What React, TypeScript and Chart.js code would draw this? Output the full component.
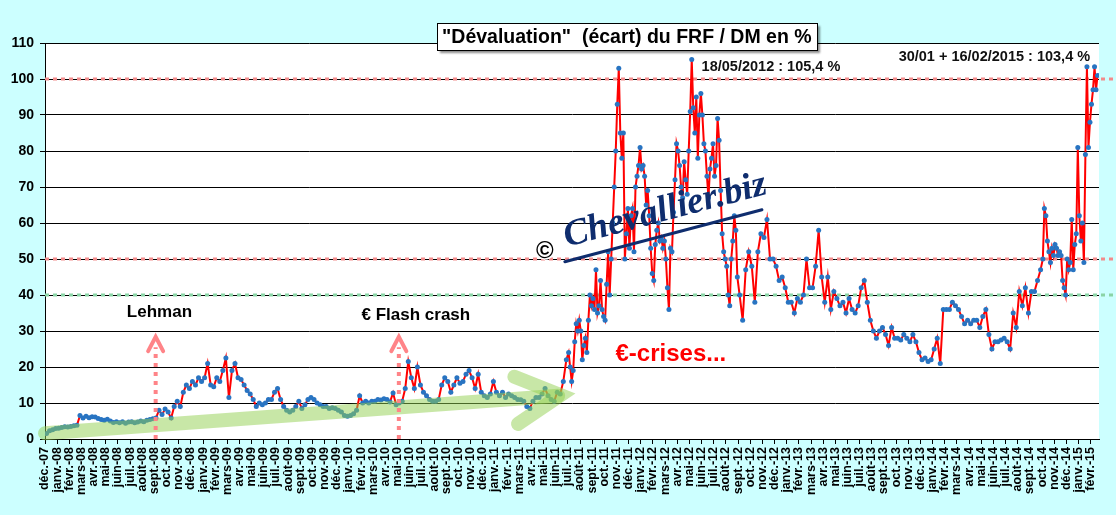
import React, { useEffect, useRef } from 'react';
import { Chart, registerables } from 'chart.js';

Chart.register(...registerables);

// ---- Tick labels (x axis: one per month, déc.-07 … févr.-15) ----
const monthNames = ['janv.', 'févr.', 'mars', 'avr.', 'mai', 'juin', 'juil.', 'août', 'sept.', 'oct.', 'nov.', 'déc.'];
const labelYears = ['08', '09', '10', '11', '12', '13', '14'];
const monthLabels: string[] = ['déc.-07'];
labelYears.forEach((yy) => monthNames.forEach((mn) => monthLabels.push(`${mn}-${yy}`)));
monthLabels.push('janv.-15', 'févr.-15');

const yMin = 0;
const yMax = 110;
const yStep = 10;
const xAxisMax = 86.68; // axis ends ~20 févr. 2015

// ---- Series values: écart FRF / DM en % (4 readings per month, 8 in the hectic periods) ----
const dec2007 = [1.5, 2.3, 2.6, 2.9];
const y2008 = [
  3.0, 3.2, 3.4, 3.3, 3.5, 3.7, 3.8, 6.5, 5.8, 6.3, 5.9, 6.2,
  6.1, 5.7, 5.4, 5.2, 5.5, 5.0, 4.6, 4.8, 4.5, 4.8, 4.4, 4.7,
  4.8, 4.5, 4.7, 5.0, 4.8, 5.2, 5.4, 5.6, 5.8, 8.0, 6.8, 8.3,
  7.5, 5.8, 9.0, 10.5, 9.0, 13.0, 15.0, 14.0, 16.0, 15.0, 17.0, 16.0,
];
const y2009 = [
  17, 21, 15, 14.5, 17, 16, 19, 22.5, 11.5, 19, 21, 17,
  16.5, 15, 13.5, 12.5, 11, 9, 10, 9.5, 10, 11, 11, 13,
  14, 11, 9, 8, 7.5, 8, 9, 10.5, 8.5, 9.5, 11, 11.5,
  11, 10, 9.5, 9, 9, 8.5, 8.7, 8.5, 8, 7.5, 6.5, 6.3,
];
const y2010 = [
  6.5, 7, 8, 12, 10, 10.5, 10, 10.5, 10.5, 11, 10.8, 11.2,
  11, 10.3, 12.8, 9.5, 10, 10.5, 14, 21.5, 17, 14, 20, 15,
  13, 12, 11, 10.5, 10.5, 11, 15, 17, 16, 13, 15, 17,
  15.5, 16, 18, 19, 17, 14, 18, 13, 12, 11.5, 12.5, 16,
];
const y2011H1 = [
  13, 12, 13, 11.5, 12.5, 12, 11.5, 11, 10.9, 10.5, 9, 8.5,
  10.5, 11.5, 11.5, 12.5, 14, 12, 11, 10.5, 13, 12.5, 16, 22,
];
const y2011H2 = [
  24, 20, 16, 19, 27, 32, 30, 33,
  30, 22, 26, 28, 24, 33, 40, 37,
  39, 36, 47, 35, 37, 44, 36, 34,
  33, 43, 52, 40, 50, 60, 70, 80,
  93, 103, 85, 78, 85, 50, 57, 64,
  53, 62, 64, 52, 70, 73, 76, 81,
];
const y2012a = [
  75, 76, 73, 65, 69, 62, 53, 46,
  44, 54, 58, 60, 55, 56, 53, 55,
  50, 42, 36, 53, 52, 63, 72, 82,
  80, 76, 70, 67, 77, 72, 68, 80,
  91, 105.4, 92, 85, 95, 78, 90, 96,
  90, 82, 80, 73, 67, 75, 78, 82,
  73, 76, 89, 83, 69, 57, 52, 50,
  48, 40, 37, 50, 55, 62, 58, 45,
];
const y2012b = [
  40, 33, 47, 52, 48, 38, 52, 57, 56, 61, 50, 50, 48, 44, 45, 42,
];
const y2013 = [
  38, 38, 35, 39, 38, 40, 50, 42, 42, 48, 58, 45,
  38, 45, 36, 41, 39, 37, 38, 35, 39, 36, 35, 37,
  42, 44, 38, 33, 30, 28, 30, 31, 29, 26, 31, 28,
  28, 27.5, 29, 28, 27, 29, 27, 24, 22, 22.5, 21.5, 22,
];
const y2014a = [
  25, 28, 21, 36, 36, 36, 38, 37, 36, 34, 32, 33,
  32, 33, 33, 31, 34, 36, 29, 25, 27, 27, 27.5, 28,
  27, 25, 35, 31, 41, 37, 42, 35, 41, 41, 44, 47,
];
const y2014b = [
  50, 64, 62, 55, 52, 49, 53, 51,
  54, 53, 51, 52, 51, 44, 42, 40,
  50, 47, 49, 61, 47, 54, 57, 81,
];
const y2015 = [
  62, 55, 60, 49, 79, 103.4, 81, 88,
  93, 97, 103.4, 97, 101,
];

const segments = [
  { values: dec2007, perMonth: 4 },
  { values: y2008, perMonth: 4 },
  { values: y2009, perMonth: 4 },
  { values: y2010, perMonth: 4 },
  { values: y2011H1, perMonth: 4 },
  { values: y2011H2, perMonth: 8 },
  { values: y2012a, perMonth: 8 },
  { values: y2012b, perMonth: 4 },
  { values: y2013, perMonth: 4 },
  { values: y2014a, perMonth: 4 },
  { values: y2014b, perMonth: 8 },
  { values: y2015, perMonth: 8 },
];

// ---- Annotations ----
const titleText = '"Dévaluation"  (écart) du FRF / DM en %';
const peak2012Text = '18/05/2012 : 105,4 %';
const peak2015Text = '30/01 + 16/02/2015 : 103,4 %';
const crisisText = '€-crises...';
const watermarkText = 'Chevallier.biz';
const refLines = [
  { value: 100, color: '#f28b8b' },
  { value: 50, color: '#f28b8b' },
  { value: 40, color: '#8ad4a6' },
];
const events = [
  { label: 'Lehman', m: 9.1, textM: 9.41, textV: 35.1 },
  { label: '€ Flash crash', m: 29.1, textM: 30.5, textV: 34.25 },
];

const points: { x: number; y: number }[] = [];
{
  let cursor = 0;
  segments.forEach((s) => {
    s.values.forEach((v, i) => points.push({ x: cursor + (i + 0.5) / s.perMonth, y: v }));
    cursor += s.values.length / s.perMonth;
  });
}

const decorPlugin = {
  id: 'decor',
  beforeDraw(chart: any) {
    const { ctx, chartArea } = chart;
    ctx.save();
    ctx.fillStyle = '#ccffff';
    ctx.fillRect(0, 0, chart.width, chart.height);
    ctx.fillStyle = '#ffffff';
    ctx.fillRect(chartArea.left, chartArea.top, chartArea.right - chartArea.left, chartArea.bottom - chartArea.top);
    ctx.restore();
  },
  beforeDatasetsDraw(chart: any) {
    const { ctx, chartArea } = chart;
    const y = chart.scales.y;
    refLines.forEach((r) => {
      const p = Math.round(y.getPixelForValue(r.value));
      ctx.save();
      ctx.strokeStyle = r.color;
      ctx.lineWidth = 3;
      ctx.setLineDash([4, 4]);
      ctx.beginPath();
      ctx.moveTo(chartArea.left, p);
      ctx.lineTo(chart.width, p);
      ctx.stroke();
      ctx.restore();
    });
  },
  afterDatasetsDraw(chart: any) {
    const { ctx } = chart;
    const X = (m: number) => chart.scales.x.getPixelForValue(m);
    const Y = (v: number) => chart.scales.y.getPixelForValue(v);

    // green trend arrow (semi transparent)
    ctx.save();
    ctx.strokeStyle = 'rgba(146,208,80,0.5)';
    ctx.lineWidth = 14;
    ctx.lineCap = 'round';
    ctx.beginPath();
    ctx.moveTo(X(0), Y(1.6));
    ctx.lineTo(X(42.2), Y(12));
    ctx.stroke();
    ctx.beginPath();
    ctx.moveTo(X(38.6), Y(17.3));
    ctx.lineTo(X(42.4), Y(12.2));
    ctx.lineTo(X(38.9), Y(4.2));
    ctx.stroke();
    ctx.restore();

    // pink event arrows
    events.forEach((e) => {
      const ex = X(e.m);
      ctx.save();
      ctx.strokeStyle = '#ff8488';
      ctx.lineWidth = 4;
      ctx.setLineDash([4, 5]);
      ctx.beginPath();
      ctx.moveTo(ex, Y(0));
      ctx.lineTo(ex, Y(25.5));
      ctx.stroke();
      ctx.setLineDash([]);
      ctx.lineCap = 'round';
      ctx.beginPath();
      ctx.moveTo(ex - 7.5, Y(24.4));
      ctx.lineTo(ex, Y(28.4));
      ctx.lineTo(ex + 7.5, Y(24.4));
      ctx.stroke();
      ctx.restore();

      ctx.save();
      ctx.fillStyle = '#000';
      ctx.font = 'bold 17px "Liberation Sans", Arial, sans-serif';
      ctx.textAlign = 'center';
      ctx.textBaseline = 'middle';
      ctx.fillText(e.label, X(e.textM), Y(e.textV));
      ctx.restore();
    });

    // €-crises
    ctx.save();
    ctx.fillStyle = '#ff0000';
    ctx.font = 'bold 24px "Liberation Sans", Arial, sans-serif';
    ctx.textAlign = 'center';
    ctx.textBaseline = 'middle';
    ctx.fillText(crisisText, X(51.47), Y(23.4));
    ctx.restore();

    // watermark
    ctx.save();
    ctx.fillStyle = '#000';
    ctx.font = 'bold 24px "Liberation Sans", Arial, sans-serif';
    ctx.textAlign = 'center';
    ctx.textBaseline = 'middle';
    ctx.strokeStyle = '#fff';
    ctx.lineWidth = 3;
    ctx.strokeText('©', X(41.1), Y(52));
    ctx.fillText('©', X(41.1), Y(52));
    ctx.restore();

    ctx.save();
    const ux1 = X(42.75);
    const uy1 = Y(49.25);
    const ux2 = X(58.96);
    const uy2 = Y(63.7);
    const ang = Math.atan2(uy2 - uy1, ux2 - ux1);
    ctx.strokeStyle = '#0f2d6e';
    ctx.lineWidth = 3;
    ctx.lineCap = 'round';
    ctx.beginPath();
    ctx.moveTo(ux1, uy1);
    ctx.lineTo(ux2, uy2);
    ctx.stroke();
    ctx.translate(X(42.9), Y(53.4));
    ctx.rotate(ang);
    ctx.fillStyle = '#0f2d6e';
    ctx.font = 'italic bold 37px "Liberation Serif", "DejaVu Serif", serif';
    ctx.textAlign = 'left';
    ctx.textBaseline = 'alphabetic';
    ctx.fillText(watermarkText, 0, 0);
    ctx.restore();

    // peak labels
    ctx.save();
    ctx.fillStyle = '#111';
    ctx.font = 'bold 14.5px "Liberation Sans", Arial, sans-serif';
    ctx.textBaseline = 'middle';
    ctx.textAlign = 'left';
    ctx.fillText(peak2012Text, X(54.0), Y(103.3));
    ctx.textAlign = 'right';
    ctx.fillText(peak2015Text, X(85.95), Y(106));
    ctx.restore();

    // title box
    ctx.save();
    ctx.font = 'bold 19.5px "Liberation Sans", Arial, sans-serif';
    const tw = ctx.measureText(titleText).width;
    const cx = X(47.85);
    const cy = Y(111.9);
    const bw = tw + 10;
    const bh = 27;
    ctx.shadowColor = 'rgba(0,0,0,0.45)';
    ctx.shadowOffsetX = 3;
    ctx.shadowOffsetY = 3;
    ctx.shadowBlur = 2;
    ctx.fillStyle = '#fff';
    ctx.fillRect(Math.round(cx - bw / 2), Math.round(cy - bh / 2), Math.round(bw), bh);
    ctx.shadowColor = 'transparent';
    ctx.strokeStyle = '#000';
    ctx.lineWidth = 1;
    ctx.strokeRect(Math.round(cx - bw / 2) + 0.5, Math.round(cy - bh / 2) + 0.5, Math.round(bw), bh);
    ctx.fillStyle = '#000';
    ctx.textAlign = 'center';
    ctx.textBaseline = 'middle';
    ctx.fillText(titleText, cx, cy + 1);
    ctx.restore();
  },
};

export default function App() {
  const canvasRef = useRef<HTMLCanvasElement | null>(null);

  useEffect(() => {
    document.body.style.margin = '0';
    const canvas = canvasRef.current;
    if (!canvas) return;
    Chart.defaults.font.family = '"Liberation Sans", Arial, sans-serif';
    const chart = new Chart(canvas, {
      type: 'line',
      data: {
        datasets: [
          {
            data: points,
            borderColor: '#ff0000',
            borderWidth: 2,
            pointRadius: 2.5,
            pointBackgroundColor: '#2874c2',
            pointBorderWidth: 0,
            pointHoverRadius: 0,
            tension: 0,
            fill: false,
          },
        ],
      },
      options: {
        animation: false,
        responsive: false,
        events: [],
        layout: { padding: { top: 43, right: 17, left: 0, bottom: 0 } },
        plugins: { legend: { display: false }, tooltip: { enabled: false }, title: { display: false } },
        scales: {
          x: {
            type: 'linear',
            min: 0,
            max: xAxisMax,
            afterBuildTicks: (s: any) => {
              s.ticks = monthLabels.map((_, i) => ({ value: i }));
            },
            afterFit: (s: any) => {
              s.height = 76;
            },
            ticks: {
              autoSkip: false,
              maxRotation: 90,
              minRotation: 90,
              padding: 3,
              color: '#000',
              font: { size: 12.5, weight: 'bold' },
              callback: (_v: any, i: number) => monthLabels[i],
            },
            grid: { drawOnChartArea: false, drawTicks: true, tickLength: 5, color: '#000' },
            border: { color: '#000', width: 1 },
          },
          y: {
            min: yMin,
            max: yMax,
            afterFit: (s: any) => {
              s.width = 45;
            },
            ticks: { stepSize: yStep, padding: 6, color: '#000', font: { size: 14, weight: 'bold' } },
            grid: { color: '#000', lineWidth: 1, tickLength: 5 },
            border: { color: '#000', width: 1 },
          },
        },
      },
      plugins: [decorPlugin],
    } as any);
    return () => chart.destroy();
  }, []);

  return (
    <div style={{ width: 1116, height: 515 }}>
      <canvas ref={canvasRef} width={1116} height={515} style={{ display: 'block' }} />
    </div>
  );
}
